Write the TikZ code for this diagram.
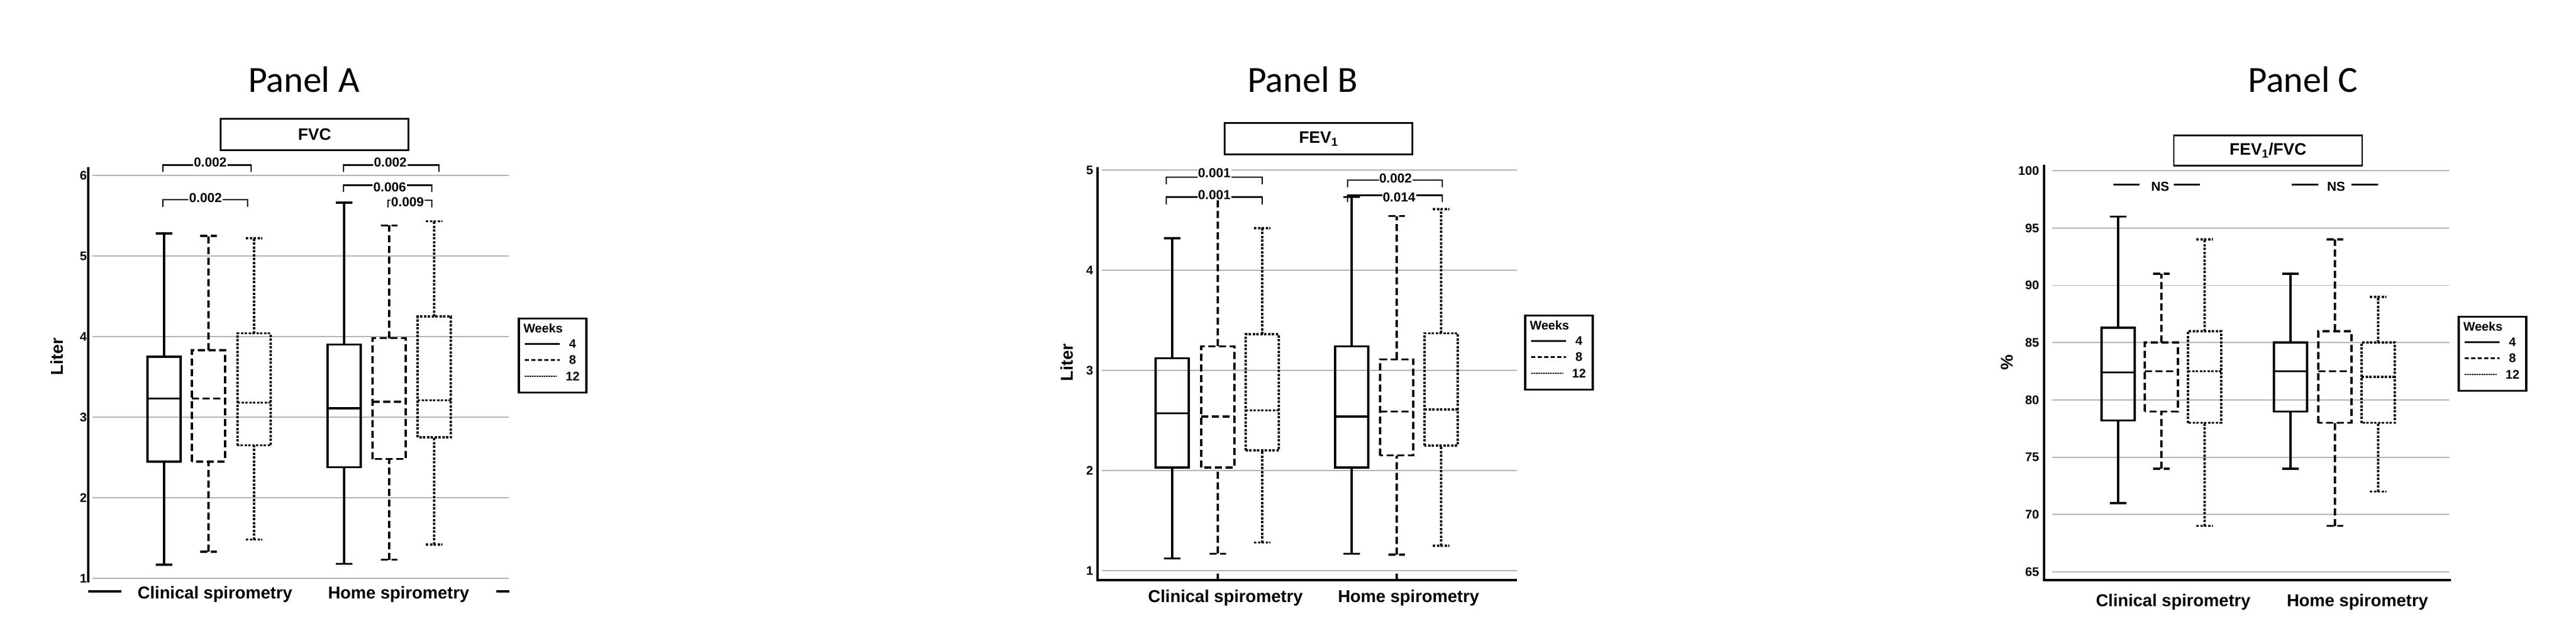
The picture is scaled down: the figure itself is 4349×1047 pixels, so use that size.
\documentclass[tikz,border=0pt]{standalone}
\usepackage{fontspec}
\setmainfont{Liberation Sans}
\newfontfamily\titlefont{Carlito}
\begin{document}
\begin{tikzpicture}[x=1pt,y=-1pt,
  wk4/.style={line width=3.5pt},
  wk8/.style={line width=3.5pt,dash pattern=on 12pt off 6pt},
  wk12/.style={line width=3.5pt,dash pattern=on 4pt off 2.5pt},
  grid/.style={line width=1.8pt,gray!60},
  axis/.style={line width=3.5pt},
  ttl/.style={font=\titlefont\fontsize{62}{70}\selectfont},
  lbl/.style={font=\bfseries\fontsize{29}{34}\selectfont},
  tick/.style={font=\bfseries\fontsize{21}{24}\selectfont,anchor=east},
  pv/.style={font=\bfseries\fontsize{22}{26}\selectfont,fill=white,inner sep=1pt},
  hdr/.style={draw,line width=2.5pt,font=\bfseries\fontsize{28}{32}\selectfont,inner sep=0pt},
  leg/.style={draw,line width=3.5pt,inner sep=0pt}]
\useasboundingbox (0,0) rectangle (4349,1047);
\newcommand\Yb{0}\newcommand\Ys{0}\newcommand\Vz{0}
\newcommand\VY[1]{\Yb-(#1-\Vz)*\Ys}
\newcommand\bp[7]{%
  \draw[#7] ({#1},{\VY{#2}}) -- ({#1},{\VY{#3}});
  \draw[#7] ({#1},{\VY{#5}}) -- ({#1},{\VY{#6}});
  \draw[#7] ({#1-14},{\VY{#2}}) -- ({#1+14},{\VY{#2}});
  \draw[#7] ({#1-14},{\VY{#6}}) -- ({#1+14},{\VY{#6}});
  \draw[#7] ({#1-28},{\VY{#3}}) rectangle ({#1+28},{\VY{#5}});
  \draw[#7] ({#1-28},{\VY{#4}}) -- ({#1+28},{\VY{#4}});}
\newcommand\brk[4]{%
  \draw[line width=2.5pt] ({#1},{\VY{#3}+12}) -- ({#1},{\VY{#3}}) -- ({#2},{\VY{#3}}) -- ({#2},{\VY{#3}+12});}
\newcommand\legend[3]{%
  \node[leg,minimum width=114pt,minimum height=125pt] (#3) at (#1,#2) {};
  \node[font=\bfseries\fontsize{21}{24}\selectfont,anchor=west] (#3t) at ([xshift=6pt,yshift=-18pt]#3.north west) {Weeks};
  \node[font=\bfseries\fontsize{21}{24}\selectfont] (#3a) at ([xshift=-25pt,yshift=-45pt]#3.north east) {4};
  \node[font=\bfseries\fontsize{21}{24}\selectfont] (#3b) at ([xshift=-25pt,yshift=-72pt]#3.north east) {8};
  \node[font=\bfseries\fontsize{21}{24}\selectfont] (#3c) at ([xshift=-25pt,yshift=-99pt]#3.north east) {12};
  \draw[wk4,line width=3pt] ([xshift=12pt]#3.west|-#3a) -- ([xshift=-12pt]#3a.west);
  \draw[wk8,line width=3pt,dash pattern=on 7pt off 4pt] ([xshift=12pt]#3.west|-#3b) -- ([xshift=-12pt]#3b.west);
  \draw[wk12,line width=2.5pt,dash pattern=on 2.5pt off 1.5pt] ([xshift=12pt]#3.west|-#3c) -- ([xshift=-12pt]#3c.west);}
% ================= Panel A
\renewcommand\Yb{976}\renewcommand\Ys{136}\renewcommand\Vz{1}
\node[ttl] (tA) at (513,134) {Panel A};
\node[hdr,minimum width=317pt,minimum height=53pt] (hA) at (531,227) {FVC};
\foreach \v in {1,...,6}{
  \draw[grid] (156,{\VY{\v}}) -- (859,{\VY{\v}});
  \node[tick] at (150,{\VY{\v}}) {\v};}
\draw[axis] (149,{\VY{6.1}}) -- (149,{\VY{0.95}});
\draw[axis] (149,{\VY{0.84}}) -- (205,{\VY{0.84}});
\draw[axis] (838,{\VY{0.84}}) -- (860,{\VY{0.84}});
\node[lbl,rotate=90] (yA) at (96,602) {Liter};
\node[lbl] (cA1) at (363,1003) {Clinical spirometry};
\node[lbl] (cA2) at (673,1003) {Home spirometry};
\bp{277}{1.17}{2.45}{3.23}{3.75}{5.28}{wk4}
\bp{352}{1.33}{2.45}{3.23}{3.83}{5.25}{wk8}
\bp{429}{1.48}{2.65}{3.18}{4.04}{5.22}{wk12}
\bp{581}{1.18}{2.38}{3.11}{3.90}{5.66}{wk4}
\bp{657}{1.23}{2.48}{3.19}{3.98}{5.38}{wk8}
\bp{733}{1.42}{2.75}{3.21}{4.25}{5.43}{wk12}
\brk{275}{424}{6.13}{}\node[pv] at (355,{\VY{6.16}}) {0.002};
\brk{275}{418}{5.70}{}\node[pv] at (347,{\VY{5.72}}) {0.002};
\brk{580}{741}{6.13}{}\node[pv] at (659,{\VY{6.16}}) {0.002};
\brk{580}{729}{5.88}{}\node[pv] at (658,{\VY{5.85}}) {0.006};
\brk{655}{729}{5.69}{}\node[pv] at (688,{\VY{5.67}}) {0.009};
\legend{933}{600}{lA}
% ================= Panel B
\renewcommand\Yb{963}\renewcommand\Ys{169}\renewcommand\Vz{1}
\node[ttl] (tB) at (2199,134) {Panel B};
\node[hdr,minimum width=317pt,minimum height=53pt] (hB) at (2226,234) {FEV\textsubscript{1}};
\foreach \v in {1,...,5}{
  \draw[grid] (1860,{\VY{\v}}) -- (2561,{\VY{\v}});
  \node[tick] at (1849,{\VY{\v}}) {\v};}
\draw[axis] (1853,{\VY{5.03}}) -- (1853,979) -- (2561,979);
\draw[axis] (2056,979) -- (2056,968);
\draw[axis] (2358,979) -- (2358,968);
\node[lbl,rotate=90] (yB) at (1801,612) {Liter};
\node[lbl] (cB1) at (2069,1009) {Clinical spirometry};
\node[lbl] (cB2) at (2378,1009) {Home spirometry};
\bp{1979}{1.12}{2.03}{2.57}{3.12}{4.32}{wk4}
\bp{2056}{1.17}{2.03}{2.54}{3.24}{4.72}{wk8}
\bp{2131}{1.28}{2.20}{2.60}{3.36}{4.42}{wk12}
\bp{2282}{1.17}{2.03}{2.54}{3.24}{4.73}{wk4}
\bp{2358}{1.16}{2.15}{2.59}{3.11}{4.54}{wk8}
\bp{2433}{1.25}{2.25}{2.61}{3.37}{4.61}{wk12}
\brk{1969}{2131}{4.93}{}\node[pv] at (2050,{\VY{4.97}}) {0.001};
\brk{1969}{2131}{4.73}{}\node[pv] at (2050,{\VY{4.75}}) {0.001};
\brk{2275}{2435}{4.90}{}\node[pv] at (2356,{\VY{4.92}}) {0.002};
\brk{2275}{2435}{4.75}{}\node[pv] at (2362,{\VY{4.73}}) {0.014};
\legend{2632}{595}{lB}
% ================= Panel C
\renewcommand\Yb{965}\renewcommand\Ys{19.34}\renewcommand\Vz{65}
\node[ttl] (tC) at (3888,134) {Panel C};
\node[hdr,minimum width=318pt,minimum height=51pt] (hC) at (3829,254) {FEV\textsubscript{1}/FVC};
\foreach \v in {65,70,...,100}{
  \draw[grid] (3465,{\VY{\v}}) -- (4135,{\VY{\v}});
  \node[tick] at (3446,{\VY{\v}}) {\v};}
\draw[axis] (3451,{\VY{100.5}}) -- (3451,979) -- (4138,979);
\node[lbl,rotate=90] (yC) at (3388,612) {\%};
\node[lbl] (cC1) at (3669,1016) {Clinical spirometry};
\node[lbl] (cC2) at (3980,1016) {Home spirometry};
\bp{3576}{71}{78.2}{82.4}{86.3}{96}{wk4}
\bp{3649}{74}{79}{82.5}{85}{91}{wk8}
\bp{3722}{69}{78}{82.5}{86}{94}{wk12}
\bp{3867}{74}{79}{82.5}{85}{91}{wk4}
\bp{3942}{69}{78}{82.5}{86}{94}{wk8}
\bp{4015}{72}{78}{82}{85}{89}{wk12}
\draw[line width=2.5pt] (3568,{\VY{98.8}}) -- (3612,{\VY{98.8}});
\draw[line width=2.5pt] (3670,{\VY{98.8}}) -- (3714,{\VY{98.8}});
\node[pv,fill=none] (nsC) at (3647,{\VY{98.6}}) {NS};
\draw[line width=2.5pt] (3869,{\VY{98.8}}) -- (3914,{\VY{98.8}});
\draw[line width=2.5pt] (3970,{\VY{98.8}}) -- (4015,{\VY{98.8}});
\node[pv,fill=none] (nsH) at (3944,{\VY{98.6}}) {NS};
\legend{4208}{597}{lC}
\end{tikzpicture}
\end{document}
